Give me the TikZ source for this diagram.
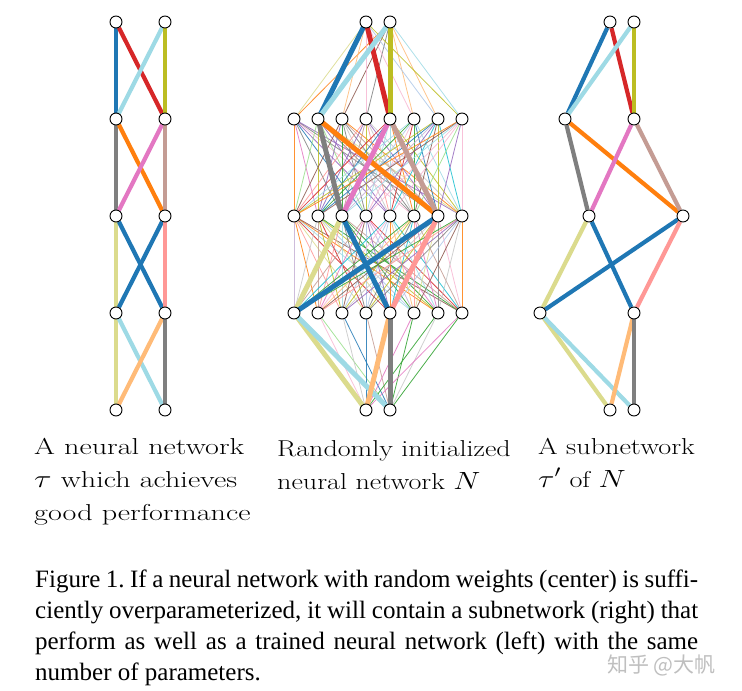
\documentclass[tikz,border=0pt]{standalone}
\usepackage{fontspec}
\newfontfamily\capfont{Liberation Serif}
\newfontfamily\cjkfont{Noto Sans CJK SC}
\usetikzlibrary{backgrounds}

% tab20 palette, numbered for the random weights
\definecolor{tb1}{HTML}{1F77B4}  \definecolor{tb2}{HTML}{AEC7E8}
\definecolor{tb3}{HTML}{FF7F0E}  \definecolor{tb4}{HTML}{FFBB78}
\definecolor{tb5}{HTML}{2CA02C}  \definecolor{tb6}{HTML}{98DF8A}
\definecolor{tb7}{HTML}{D62728}  \definecolor{tb8}{HTML}{FF9896}
\definecolor{tb9}{HTML}{9467BD}  \definecolor{tb10}{HTML}{C5B0D5}
\definecolor{tb11}{HTML}{8C564B} \definecolor{tb12}{HTML}{C49C94}
\definecolor{tb13}{HTML}{E377C2} \definecolor{tb14}{HTML}{F7B6D2}
\definecolor{tb15}{HTML}{7F7F7F} \definecolor{tb16}{HTML}{C7C7C7}
\definecolor{tb17}{HTML}{BCBD22} \definecolor{tb18}{HTML}{DBDB8D}
\definecolor{tb19}{HTML}{17BECF} \definecolor{tb20}{HTML}{9EDAE5}

\tikzset{neuron/.style={circle, draw=black, fill=white, line width=0.9pt,
    inner sep=0pt, minimum size=12pt},
  netlabel/.style={anchor=base west, inner sep=0pt,
    font=\fontsize{23}{33}\selectfont},
  capline/.style={anchor=base west, inner sep=0pt,
    font=\capfont\fontsize{25}{31}\selectfont\frenchspacing}}

% the 16 weights of the small network, between nodes #1-<layer>-<u|v>
\newcommand{\subnet}[2]{%
  \foreach \a/\b/\c in {0-u/1-u/tb1, 0-u/1-v/tb7, 0-v/1-u/tb20, 0-v/1-v/tb17,
      1-u/2-u/tb15, 1-u/2-v/tb3, 1-v/2-u/tb13, 1-v/2-v/tb12,
      2-u/3-u/tb18, 2-u/3-v/tb1, 2-v/3-u/tb1, 2-v/3-v/tb8,
      3-u/4-u/tb18, 3-u/4-v/tb20, 3-v/4-u/tb4, 3-v/4-v/tb15}
    \draw[\c, line width=#2] (#1-\a) -- (#1-\b);}

% label lines, set wide like the figure
\newcommand{\widelines}[2]{\scalebox{#1}[1]{\begin{tabular}[b]{@{}l@{}}#2\end{tabular}}}

\begin{document}
\begin{tikzpicture}[x=1pt,y=-1pt]
  \useasboundingbox (0,0) rectangle (742,691);

  % The trained network (left).
  \foreach \r/\y in {0/22,1/119,2/216,3/313,4/410}{
    \node[neuron] (l-\r-u) at (116,\y) {};
    \node[neuron] (l-\r-v) at (165,\y) {};
  }

  % The subnetwork (right).
  \foreach \r/\xu/\xv/\y in {0/610/634/22, 1/565/634/119, 2/589/683/216,
      3/540/634/313, 4/610/634/410}{
    \node[neuron] (r-\r-u) at (\xu,\y) {};
    \node[neuron] (r-\r-v) at (\xv,\y) {};
  }

  % The randomly initialized network (center).
  \node[neuron] (m-0-4) at (366,22) {};
  \node[neuron] (m-0-5) at (390,22) {};
  \foreach \r/\y in {1/119,2/216,3/313}
    \foreach \c in {1,...,8}
      \node[neuron] (m-\r-\c) at ({294+24*(\c-1)},\y) {};
  \node[neuron] (m-4-4) at (366,410) {};
  \node[neuron] (m-4-5) at (390,410) {};

  % Nodes of the center network that the subnetwork keeps.
  \foreach \r/\cu/\cv in {0/4/5,1/2/5,2/3/7,3/1/5,4/4/5}{
    \coordinate (m-\r-u) at (m-\r-\cu.center);
    \coordinate (m-\r-v) at (m-\r-\cv.center);
  }

  \begin{pgfonlayer}{background}
    % random weights, all pairs between layers
    \pgfmathsetseed{17}
    \foreach \t in {1,...,8}
      \foreach \s in {4,5}{
        \pgfmathrandominteger{\k}{1}{20}
        \draw[tb\k, line width=0.8pt, opacity=0.85] (m-0-\s) -- (m-1-\t);
        \pgfmathrandominteger{\k}{1}{20}
        \draw[tb\k, line width=0.8pt, opacity=0.85] (m-3-\t) -- (m-4-\s);
      }
    \foreach \r [evaluate=\r as \q using int(\r+1)] in {1,2}
      \foreach \s in {1,...,8}
        \foreach \t in {1,...,8}{
          \pgfmathrandominteger{\k}{1}{20}
          \draw[tb\k, line width=0.8pt, opacity=0.85] (m-\r-\s) -- (m-\q-\t);
        }

    % the weights that the three networks share
    \subnet{l}{4.2pt}
    \subnet{r}{4.2pt}
    \subnet{m}{5pt}
  \end{pgfonlayer}

  % Labels under the networks (anchored at their last line).
  \node[netlabel] (lbl-l) at (34,520)
    {\widelines{1.31}{A neural network\\$\tau$ which achieves\\good performance}};
  \node[netlabel] (lbl-m) at (277,489)
    {\widelines{1.22}{Randomly initialized\\neural network $N$}};
  \node[netlabel] (lbl-r) at (538,487)
    {\widelines{1.225}{A subnetwork\\$\tau'$ of $N$}};

  % Caption, one justified line per node.
  \node[capline] (cap-1) at (35,587)
    {\makebox[663pt][s]{Figure 1. If a neural network with random weights (center) is suffi-}};
  \node[capline] (cap-2) at (35,618)
    {\makebox[663pt][s]{ciently overparameterized, it will contain a subnetwork (right) that}};
  \node[capline] (cap-3) at (35,649)
    {\makebox[663pt][s]{perform as well as a trained neural network (left) with the same}};
  \node[capline] (cap-4) at (35,680) {number of parameters.};

  % watermark
  \node[anchor=base west, inner sep=0pt, text=black!25,
    font=\cjkfont\fontsize{21}{21}\selectfont] (mark) at (607,672) {知乎 @大帆};
\end{tikzpicture}
\end{document}
